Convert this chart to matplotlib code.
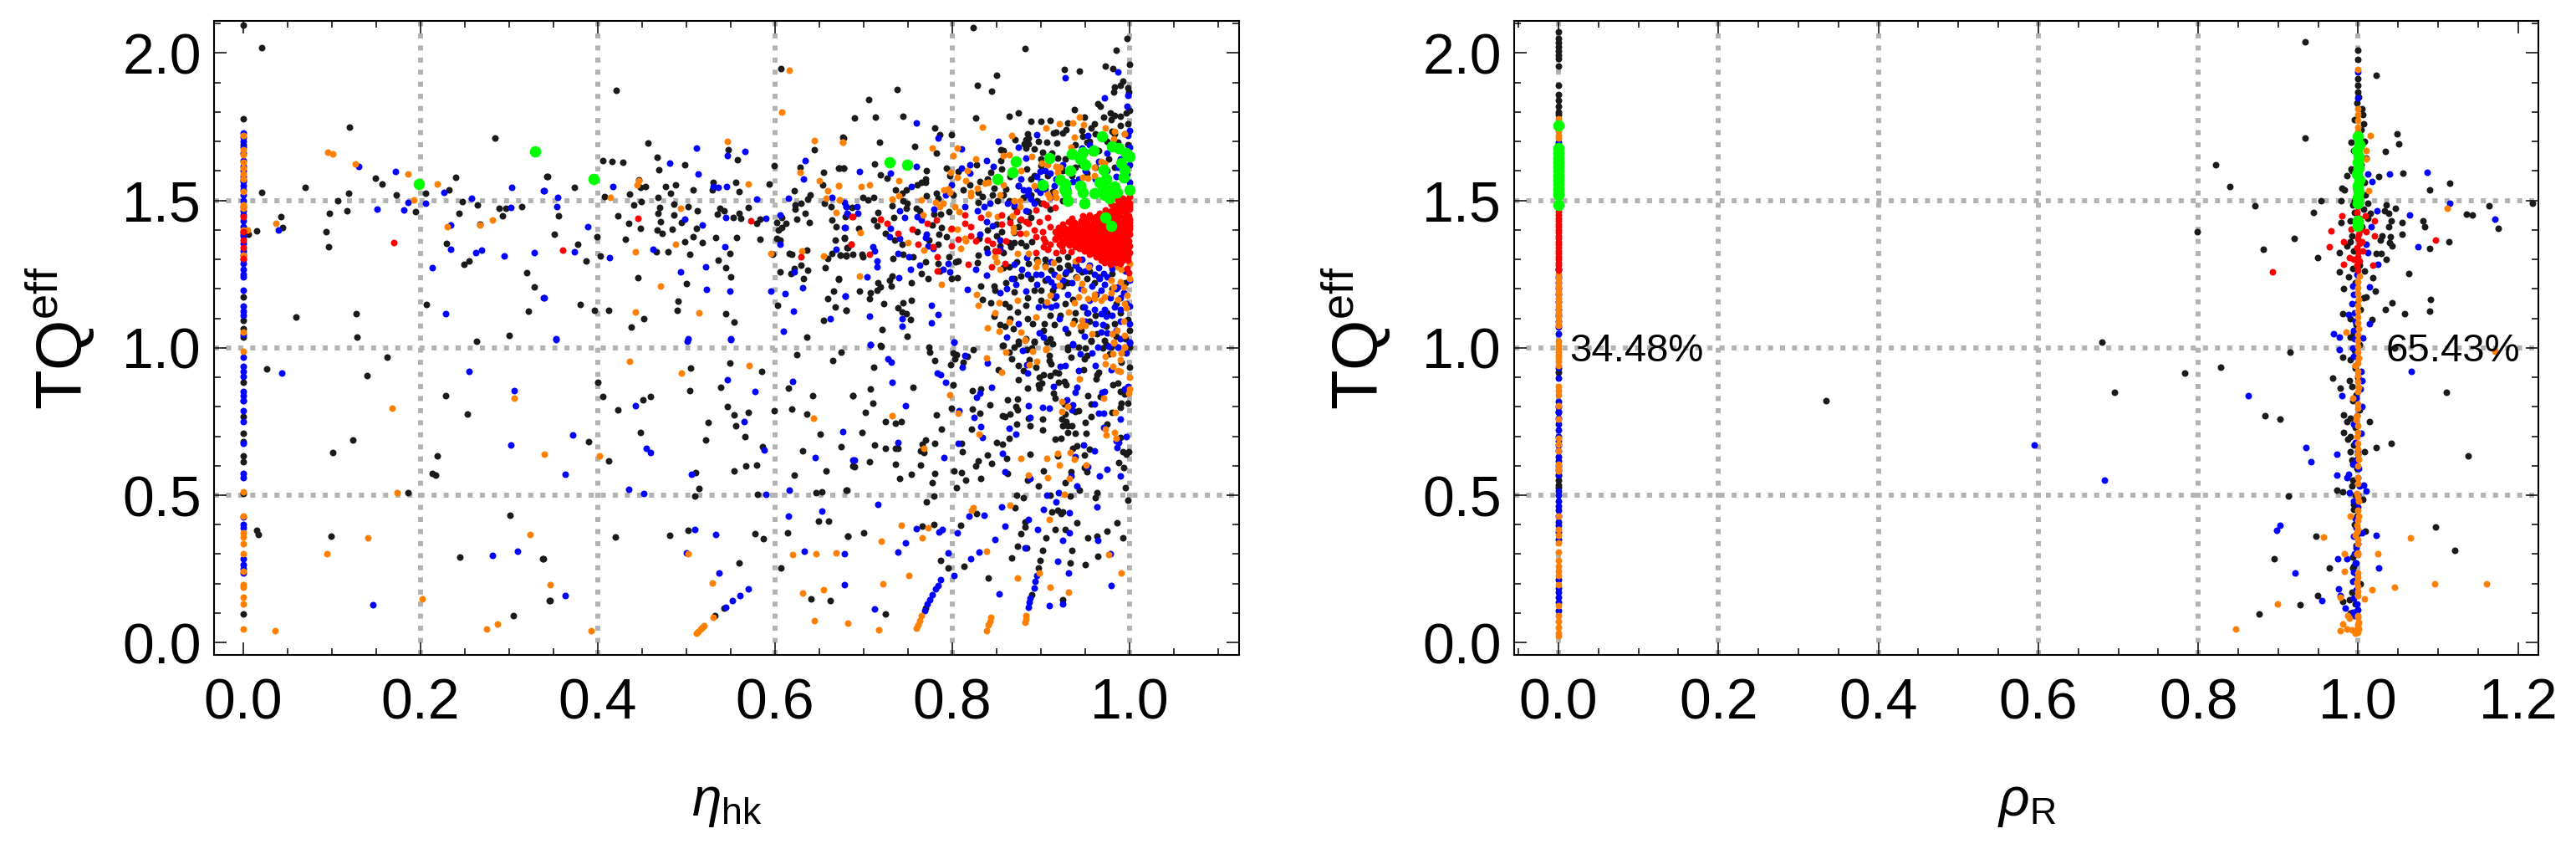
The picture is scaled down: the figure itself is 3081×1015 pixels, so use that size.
import numpy as np
import matplotlib
matplotlib.use("Agg")
import matplotlib.pyplot as plt

plt.rcParams['font.family'] = ['Liberation Sans', 'DejaVu Sans']
plt.rcParams['mathtext.fontset'] = 'custom'
plt.rcParams['mathtext.rm'] = 'Liberation Sans'
plt.rcParams['mathtext.it'] = 'Liberation Sans:italic'

# --- left panel, points sitting on eta_hk = 0 (only TQ values) ---
left_zero_black = [2.094, 1.778, 1.690, 1.173, 1.094, 1.066, 1.037, 0.884, 0.821, 0.766, 0.709, 0.683, 0.634, 0.613, 0.506, 0.097, 1.57, 1.384]
left_zero_blue = [1.73, 1.715, 1.70, 1.68, 1.66, 1.635, 1.615, 1.60, 1.58, 1.565, 1.55, 1.535, 1.52, 1.50, 1.48, 1.465, 1.45, 1.43, 1.41, 1.395, 1.38, 1.355, 1.33, 1.315, 1.30, 1.285, 1.265, 1.25, 1.24, 1.196, 1.14, 1.125, 1.111, 1.044,
                  0.967, 0.938, 0.919, 0.902, 0.851, 0.837, 0.821, 0.787, 0.749, 0.675, 0.575, 0.56, 0.426, 0.402, 0.39, 0.284, 0.265, 0.25, 0.235]
left_zero_orange = [1.719, 1.671, 1.654, 1.63, 1.61, 1.59, 1.574, 1.531, 1.484, 1.473, 1.399, 1.314, 1.052, 0.988, 0.512, 0.428, 0.373, 0.359, 0.336, 0.302, 0.241, 0.197, 0.189, 0.154, 0.130, 0.045]
left_zero_red = [1.446, 1.394, 1.366, 1.340, 1.304]

# --- left panel, scattered points (eta_hk, TQ) ---
left_black = [
    (.021, 2.017), (.120, 1.749), (.284, 1.711), (.149, 1.575), (.157, 1.556), (.070, 1.544), (.021, 1.528), (.119, 1.525), (.173, 1.518),
    (.107, 1.499), (.042, 1.446), (.097, 1.456), (.117, 1.465), (.194, 1.462), (.206, 1.525), (.232, 1.535), (.240, 1.578), (.247, 1.495),
    (.264, 1.486), (.243, 1.457), (.289, 1.472), (.292, 1.449), (.296, 1.474), (.314, 1.480), (.342, 1.580), (.267, 1.420), (.044, 1.409),
    (.015, 1.397), (.006, 1.384), (.093, 1.393), (.096, 1.344), (.229, 1.354), (.255, 1.294), (.249, 1.283), (.320, 1.255), (.328, 1.208),
    (.207, 1.147), (.322, 1.125), (.059, 1.104), (.127, 1.115), (.300, 1.042), (.128, 1.037),
    (.263, 1.022), (.162, .969), (.026, .929), (.140, .906), (.228, .839), (.253, .775), (.124, .688), (.101, .645), (.219, .634), (.213, .575),
    (.217, .567), (.186, .508), (.301, .433), (.015, .381), (.017, .366), (.099, .360), (.244, .289), (.338, .284), (.345, .142), (.305, .092),
    (.421, 1.874), (.607, 1.946), (.457, 1.694), (.467, 1.647), (.406, 1.635), (.416, 1.633), (.428, 1.629), (.469, 1.603), (.498, 1.620),
    (.547, 1.671), (.558, 1.639), (.599, 1.618), (.628, 1.613), (.644, 1.673), (.677, 1.713), (.655, 1.595), (.673, 1.610), (.677, 1.610),
    (.343, 1.580), (.374, 1.545), (.446, 1.571), (.448, 1.543), (.454, 1.548), (.476, 1.546), (.488, 1.552), (.482, 1.524), (.508, 1.536),
    (.530, 1.562), (.529, 1.536), (.556, 1.562), (.559, 1.531), (.593, 1.555), (.622, 1.534), (.654, 1.552), (.408, 1.512), (.436, 1.521),
    (.468, 1.510), (.441, 1.485), (.449, 1.495), (.470, 1.476), (.468, 1.457), (.486, 1.487), (.502, 1.479), (.512, 1.466), (.486, 1.451),
    (.423, 1.449), (.356, 1.448), (.538, 1.472), (.542, 1.466), (.535, 1.454), (.559, 1.457), (.553, 1.443), (.561, 1.439), (.570, 1.476),
    (.583, 1.437), (.579, 1.423), (.608, 1.443), (.623, 1.484), (.629, 1.491), (.623, 1.470), (.637, 1.505), (.640, 1.519), (.656, 1.491),
    (.663, 1.478), (.634, 1.456), (.625, 1.437), (.639, 1.425), (.664, 1.433), (.679, 1.446), (.687, 1.477), (.602, 1.425), (.612, 1.423),
    (.608, 1.408), (.604, 1.399), (.669, 1.410), (.435, 1.422), (.471, 1.427), (.494, 1.424), (.448, 1.404), (.467, 1.399), (.473, 1.389),
    (.484, 1.401), (.511, 1.404), (.351, 1.385), (.399, 1.378), (.431, 1.369), (.508, 1.378), (.533, 1.374), (.557, 1.373), (.583, 1.367),
    (.602, 1.371), (.606, 1.366), (.668, 1.366), (.678, 1.372), (.498, 1.361), (.518, 1.356), (.377, 1.351), (.403, 1.313), (.387, 1.294),
    (.466, 1.325), (.479, 1.326), (.504, 1.316), (.549, 1.321), (.597, 1.318), (.616, 1.319), (.619, 1.316), (.636, 1.331), (.664, 1.321),
    (.659, 1.302), (.674, 1.314), (.680, 1.312), (.682, 1.340), (.536, 1.298), (.544, 1.272), (.629, 1.280), (.622, 1.270), (.637, 1.262),
    (.606, 1.258), (.618, 1.251), (.657, 1.272), (.550, 1.242), (.632, 1.236), (.672, 1.232), (.445, 1.237), (.500, 1.218), (.666, 1.193),
    (.659, 1.168), (.491, 1.159), (.380, 1.148), (.603, 1.144), (.396, 1.126), (.412, 1.128), (.490, 1.126), (.668, 1.139), (.680, 1.126),
    (.544, 1.115), (.452, 1.098), (.554, 1.088), (.655, 1.094), (.438, 1.069), (.636, 1.035),
    (.625, .978), (.675, .986), (.665, .957), (.549, .949), (.505, .930), (.585, .921), (.400, .884), (.539, .865), (.504, .854), (.615, .864),
    (.406, .834), (.642, .839), (.688, .838), (.451, .823), (.459, .835), (.423, .790), (.546, .802), (.554, .773), (.570, .781), (.599, .788),
    (.619, .791), (.636, .776), (.525, .746), (.556, .735), (.448, .713), (.651, .708), (.566, .698), (.390, .683), (.522, .687), (.586, .664),
    (.675, .664), (.631, .649), (.412, .615), (.510, .577), (.554, .583), (.567, .599), (.579, .601), (.658, .581), (.622, .567), (.688, .598),
    (.514, .524), (.509, .496), (.580, .503), (.646, .508), (.653, .512), (.680, .517), (.649, .412), (.660, .413), (.502, .380), (.481, .364),
    (.420, .357), (.577, .369), (.587, .353), (.614, .372), (.682, .362), (.339, .284), (.559, .269), (.607, .252), (.346, .142), (.641, .149),
    (.662, .142), (.542, .116), (.532, .092),
    (.719, 1.007), (.774, 1.001), (.775, .986), (.780, .957), (.711, .933), (.801, .982), (.805, .976), (.803, .963), (.812, .952), (.817, .972),
    (.798, .943), (.824, .995), (.852, .927), (.857, 1.008), (.864, .986), (.867, .963), (.870, 1.001), (.875, 1.014), (.884, .993), (.892, 1.020),
    (.875, .939), (.880, .922), (.887, .960), (.894, .933), (.898, .901), (.903, .910), (.910, .906), (.916, .916), (.920, .913), (.875, .891),
    (.901, .881), (.897, .875), (.898, .864), (.885, .863), (.920, .884), (.926, .887), (.928, .875), (.909, .974), (.909, .957), (.911, .946),
    (.913, 1.014), (.907, 1.020), (.930, .995), (.934, .969), (.942, 1.003), (.949, .963), (.952, .974), (.948, .925), (.963, .908), (.965, .916),
    (.962, .894), (.981, .875), (.987, .881), (.990, .851), (.994, .842), (1.0, .934), (.991, .951), (1.0, 1.003), (.974, 1.012), (.977, .979),
    (.957, 1.023), (.688, .838), (.708, .861), (.756, .865), (.710, .811), (.702, .780), (.725, .750), (.736, .744), (.742, .749), (.782, .772),
    (.698, .712), (.788, .724), (.801, .874), (.823, .854), (.832, .859), (.799, .796), (.823, .791), (.831, .779), (.842, .807), (.862, .824),
    (.874, .827), (.872, .801), (.874, .790), (.857, .769), (.859, .766), (.865, .776), (.886, .762), (.902, .758), (.822, .725), (.873, .740),
    (.888, .735), (.902, .722), (.864, .694), (.914, .845), (.916, .828), (.926, .809), (.939, .783), (.942, .787), (.927, .776), (.924, .759),
    (.928, .749), (.925, .736), (.930, .736), (.935, .736), (.930, .712), (.939, .709), (.951, .710), (.950, .746), (.957, .768), (.957, .809),
    (.953, .838), (.967, .834), (.990, .799), (.991, .811), (.998, .811), (.980, .781), (.975, .742), (.916, .689), (.923, .692), (.712, .670),
    (.725, .658), (.736, .658), (.739, .660), (.770, .686), (.766, .673), (.764, .649), (.768, .645), (.780, .675), (.810, .676), (.811, .647),
    (.850, .679), (.857, .674), (.840, .636), (.829, .615), (.826, .600), (.844, .608), (.861, .624), (.888, .638), (.936, .660), (.941, .667),
    (.955, .656), (.949, .635), (.992, .648), (.999, .648), (.996, .638), (.990, .695), (.988, .610), (.993, .594), (.707, .613), (.690, .596),
    (.736, .605), (.764, .602), (.741, .556), (.754, .570), (.780, .574), (.777, .542), (.802, .581), (.810, .577), (.815, .550), (.832, .557),
    (.805, .525), (.681, .517), (.862, .575), (.885, .550), (.903, .581), (.897, .530), (.934, .580), (.927, .542), (.952, .580), (.949, .594),
    (.919, .634), (.995, .525), (.943, .516), (.910, .499), (.873, .501), (.880, .491), (.933, .497), (.963, .508), (.961, .491), (.998, .483),
    (.779, .496), (.771, .478), (.871, .458), (.827, .438), (.912, .442), (.919, .449), (.923, .437), (.925, .444), (.779, .400), (.766, .394),
    (.809, .397), (.882, .408), (.882, .391), (.941, .407), (.986, .407), (.682, .362), (.700, .372), (.877, .369), (.916, .384), (.927, .383),
    (.975, .378), (.906, .354), (.953, .354), (.963, .362), (.992, .354), (.874, .328), (.884, .321), (.902, .312), (.935, .312), (.964, .293),
    (.867, .288), (.899, .279), (.933, .269), (.950, .265), (.787, .279), (.795, .252), (.813, .258), (.897, .252), (.841, .220), (.725, .097),
    (.890, .161), (.925, .144), (.770, .116),
    (.824, 2.087), (.882, 2.015), (.997, 2.048), (.985, 2.009), (.973, 1.957), (.981, 1.948), (1.0, 1.961), (.926, 1.943), (.943, 1.940),
    (.850, 1.925), (.992, 1.906), (.990, 1.891), (.983, 1.884), (.982, 1.868), (.998, 1.882), (.999, 1.868), (.828, 1.890), (.844, 1.871),
    (.738, 1.876), (.706, 1.841), (.690, 1.779), (.713, 1.783), (.744, 1.785), (.826, 1.781), (.864, 1.785), (.875, 1.797), (.938, 1.808),
    (.964, 1.828), (.967, 1.820), (.978, 1.797), (.983, 1.787), (.990, 1.785), (.996, 1.797), (1.0, 1.806), (.949, 1.783), (.971, 1.783),
    (.979, 1.773), (.990, 1.754), (.998, 1.759), (.960, 1.761), (.957, 1.745), (.930, 1.764), (.889, 1.768), (.900, 1.768), (.910, 1.772),
    (.780, 1.747), (.786, 1.722), (.799, 1.724), (.676, 1.714), (.718, 1.698), (.758, 1.682), (.782, 1.661), (.928, 1.740), (.925, 1.728),
    (.914, 1.729), (.917, 1.732), (.946, 1.737), (.947, 1.716), (.885, 1.726), (.883, 1.707), (.886, 1.712), (.871, 1.705), (.881, 1.693),
    (.886, 1.693), (.907, 1.698), (.918, 1.696), (.897, 1.699), (.855, 1.672), (.858, 1.669), (.883, 1.679), (.892, 1.674), (.902, 1.664),
    (.919, 1.645), (.855, 1.634), (.712, 1.625), (.672, 1.610), (.677, 1.610), (.793, 1.610), (.827, 1.620), (.856, 1.606), (.884, 1.606),
    (.843, 1.596), (.719, 1.587), (.726, 1.576), (.771, 1.601), (.797, 1.584), (.807, 1.598), (.770, 1.574), (.770, 1.560), (.765, 1.560),
    (.760, 1.554), (.820, 1.553), (.831, 1.565), (.840, 1.574), (.847, 1.541), (.892, 1.584), (.736, 1.537), (.748, 1.535), (.743, 1.525),
    (.782, 1.525), (.771, 1.515), (.699, 1.510), (.705, 1.502), (.711, 1.510), (.744, 1.499), (.784, 1.508), (.801, 1.518), (.812, 1.537),
    (.829, 1.527), (.834, 1.513), (.829, 1.494), (.732, 1.482), (.749, 1.489), (.748, 1.472), (.759, 1.473), (.763, 1.466), (.779, 1.453),
    (.787, 1.453), (.796, 1.461), (.716, 1.459), (.734, 1.442), (.711, 1.433), (.715, 1.414), (.694, 1.404), (.725, 1.387), (.735, 1.366),
    (.760, 1.395), (.777, 1.418), (.788, 1.409), (.785, 1.385), (.793, 1.376), (.774, 1.366), (.743, 1.352), (.784, 1.352), (.681, 1.340),
    (.678, 1.373), (.674, 1.314), (.680, 1.314), (.688, 1.316), (.698, 1.317), (.699, 1.308), (.733, 1.302), (.744, 1.317), (.756, 1.308),
    (.770, 1.293), (.796, 1.308), (.804, 1.291), (.807, 1.295), (.829, 1.314), (.828, 1.288), (.784, 1.286), (.765, 1.253), (.773, 1.236),
    (.786, 1.260), (.799, 1.234), (.806, 1.239), (.754, 1.222), (.729, 1.229), (.732, 1.243), (.716, 1.220), (.731, 1.210), (.672, 1.234),
    (.719, 1.206), (.715, 1.194), (.708, 1.187), (.695, 1.191), (.707, 1.166), (.723, 1.149), (.744, 1.153), (.754, 1.160), (.739, 1.136),
    (.743, 1.122), (.748, 1.116), (.680, 1.128), (.753, 1.097), (.721, 1.062), (.749, 1.040), (.720, 1.005),
    (.832, 1.210), (.847, 1.210), (.848, 1.196), (.834, 1.163), (.843, 1.153), (.864, 1.139), (.859, 1.149), (.877, 1.243), (.870, 1.234),
    (.883, 1.144), (.889, 1.234), (.892, 1.196), (.900, 1.196), (.854, 1.078), (.859, 1.073), (.869, 1.064), (.847, 1.106), (.874, 1.122),
    (.891, 1.081), (.904, 1.083), (.903, 1.059), (.892, 1.021), (.858, 1.007), (.875, 1.021), (.883, 1.031), (.913, 1.196), (.927, 1.224),
    (.930, 1.220), (.936, 1.163), (.927, 1.149), (.922, 1.111), (.939, 1.120), (.938, 1.092), (.947, 1.139), (.952, 1.120), (.961, 1.111),
    (.963, 1.049), (.957, 1.026), (.974, 1.073), (.983, 1.083), (.998, 1.097), (1.0, 1.059), (.972, 1.026), (.979, 1.002), (.930, 1.002),
    (.858, 1.272), (.864, 1.276), (.873, 1.291), (.886, 1.286), (.870, 1.357), (.877, 1.357), (.864, 1.357), (.866, 1.343), (.883, 1.347),
    (.856, 1.395), (.854, 1.347), (.858, 1.324), (.839, 1.338), (.889, 1.518), (.895, 1.499), (.886, 1.461), (.889, 1.442), (.876, 1.433),
    (.851, 1.499), (.858, 1.518), (.864, 1.499), (.870, 1.480), (.908, 1.333), (.911, 1.262), (.921, 1.272), (.933, 1.267), (.946, 1.258),
    (.952, 1.234), (.930, 1.281), (.905, 1.281), (.895, 1.300), (.927, 1.253), (.980, 1.253), (.889, 1.574), (.900, 1.617), (.908, 1.584),
    (.919, 1.612), (.927, 1.641), (.939, 1.688), (.952, 1.697), (.961, 1.726), (.958, 1.664), (.939, 1.612), (.952, 1.593), (.961, 1.612),
    (.976, 1.641), (.983, 1.612), (.994, 1.726), (.987, 1.697), (.983, 1.726), (.980, 1.735),
    # extra points in the crowded part above and below the red block
    (.90, 1.64), (.912, 1.66), (.925, 1.60), (.935, 1.585), (.945, 1.62), (.955, 1.70), (.965, 1.67), (.975, 1.70), (.99, 1.67), (.998, 1.69),
    (.905, 1.55), (.913, 1.53), (.925, 1.50), (.875, 1.55), (.865, 1.58), (.87, 1.63), (.845, 1.52), (.86, 1.54), (.88, 1.51), (.90, 1.49), (.91, 1.47),
    (.865, 1.44), (.875, 1.41), (.85, 1.42), (.84, 1.40), (.83, 1.37), (.85, 1.38), (.87, 1.39), (.89, 1.36), (.905, 1.30), (.92, 1.30), (.93, 1.31),
    (.94, 1.28), (.955, 1.26), (.965, 1.24), (.94, 1.24), (.925, 1.21), (.915, 1.17), (.90, 1.16), (.885, 1.17), (.87, 1.19), (.86, 1.22), (.905, 1.23),
    (.96, 1.22), (.98, 1.20), (.995, 1.22), (.985, 1.15), (.975, 1.12), (.955, 1.09), (.945, 1.06), (.93, 1.05), (.915, 1.08), (.91, 1.11), (.99, 1.12),
    (.995, 1.03), (.985, 1.04), (.97, 1.00), (.95, 1.00), (.91, 1.03), (.89, 1.00), (.885, 1.10), (.865, 1.10),
]
left_blue = [
    (.130, 1.616), (.172, 1.599), (.226, 1.527), (.258, 1.506), (.303, 1.544), (.339, 1.534), (.186, 1.492), (.206, 1.491), (.151, 1.470),
    (.181, 1.468), (.302, 1.476), (.234, 1.418), (.040, 1.399), (.234, 1.333), (.269, 1.331), (.262, 1.323), (.294, 1.311), (.328, 1.323),
    (.213, 1.272), (.339, 1.170), (.228, 1.115), (.043, .915), (.255, .920), (.306, .855), (.302, .669), (.281, .296), (.309, .311), (.146, .127),
    (.511, 1.677), (.566, 1.667), (.546, 1.652), (.634, 1.636), (.481, 1.626), (.513, 1.590), (.632, 1.574), (.340, 1.533), (.417, 1.546),
    (.530, 1.548), (.536, 1.544), (.545, 1.546), (.355, 1.511), (.354, 1.480), (.579, 1.505), (.615, 1.506), (.664, 1.511), (.680, 1.479),
    (.498, 1.436), (.544, 1.442), (.590, 1.438), (.606, 1.452), (.681, 1.456), (.518, 1.417), (.389, 1.410), (.679, 1.408), (.606, 1.351),
    (.543, 1.343), (.374, 1.327), (.413, 1.307), (.462, 1.333), (.669, 1.333), (.522, 1.274), (.493, 1.257), (.622, 1.257), (.523, 1.198),
    (.549, 1.191), (.595, 1.193), (.611, 1.183), (.631, 1.204), (.679, 1.175), (.340, 1.169), (.621, 1.124), (.662, 1.100), (.609, 1.056),
    (.353, 1.032), (.502, 1.032), (.550, 1.032), (.353, 1.028), (.501, 1.023), (.550, 1.029),
    (.620, .885), (.546, .891), (.577, .852), (.442, .805), (.565, .750), (.676, .717), (.372, .705), (.455, .659), (.459, .646), (.588, .654),
    (.645, .629), (.363, .571), (.506, .570), (.688, .619), (.435, .519), (.452, .506), (.590, .503), (.616, .516), (.653, .445), (.615, .429),
    (.509, .383), (.533, .366), (.633, .311), (.500, .303), (.678, .300), (.537, .237), (.363, .160), (.570, .181), (.560, .160), (.552, .142),
    (.544, .121), (.678, .196),
    (.708, 1.012), (.802, 1.020), (.727, .963), (.731, .951), (.814, .974), (.840, .949), (.811, .934), (.783, .914), (.787, .910), (.732, .883),
    (.792, .883), (.844, .866), (.831, .845), (.827, .833), (.747, .803), (.808, .787), (.825, .765), (.832, .732), (.864, .728), (.872, .706),
    (.834, .697), (.739, .680), (.807, .675), (.791, .629), (.690, .620), (.857, .643), (.859, .580), (.888, .558), (.879, .990), (.884, .944),
    (.885, .915), (.922, .936), (.927, .939), (.942, .924), (.961, .939), (.936, 1.014), (.944, .979), (.958, .982), (.964, 1.003), (.976, 1.005),
    (.987, 1.003), (1.0, 1.019), (.996, .982), (.979, .927), (.914, .868), (.941, .865), (.939, .848), (.994, .861), (.998, .868), (.969, .848),
    (.972, .851), (.886, .805), (.902, .797), (.909, .794), (.929, .823), (.936, .806), (.935, .790), (.888, .764), (.960, .809), (.965, .777),
    (.971, .777), (.990, .759), (.971, .731), (.996, .698), (.985, .684), (.988, .679), (.986, .662), (.948, .671), (.960, .649), (.939, .630),
    (.953, .596), (.975, .588), (.966, .566), (.990, .564), (.934, .565), (.941, .532), (.907, .500), (.920, .508), (.917, .478), (.856, .461),
    (.903, .452), (.932, .441), (.963, .461), (.716, .468), (.836, .433), (.819, .428), (.886, .418), (.859, .395), (.896, .385), (.932, .372),
    (.759, .387), (.785, .376), (.789, .383), (.806, .372), (.848, .350), (.925, .348), (.964, .348), (.747, .339), (.882, .321), (.739, .307),
    (.795, .305), (.830, .308), (.821, .284), (.978, .301), (.919, .276), (.931, .236), (.802, .228), (.979, .194), (.853, .166), (.712, .113),
    (.909, .126), (.925, .132),
    (.787, .213), (.784, .194), (.781, .181), (.777, .161), (.775, .146), (.772, .132), (.769, .109),
    (.895, .229), (.893, .208), (.892, .184), (.888, .151), (.887, .137), (.886, .121),
    (.759, 1.764), (.784, 1.712), (.852, 1.701), (.875, 1.681), (.895, 1.722), (.810, 1.676), (.927, 1.917), (.987, 1.937), (.972, 1.848),
    (.998, 1.856), (.997, 1.820), (1.0, 1.737), (.953, 1.721), (.695, 1.598), (.730, 1.592), (.759, 1.615), (.754, 1.548), (.799, 1.554),
    (.810, 1.610), (.820, 1.593), (.820, 1.622), (.846, 1.615), (.839, 1.636), (.883, 1.645), (.877, 1.574), (.875, 1.551), (.880, 1.537),
    (.886, 1.537), (.899, 1.598), (.910, 1.592), (.900, 1.565), (.899, 1.527), (.889, 1.504), (.892, 1.489), (.883, 1.466), (.862, 1.489),
    (.870, 1.485), (.842, 1.489), (.836, 1.480), (.814, 1.480), (.779, 1.470), (.792, 1.518), (.678, 1.494), (.680, 1.478), (.692, 1.480),
    (.682, 1.454), (.693, 1.456), (.741, 1.464), (.746, 1.442), (.760, 1.445), (.765, 1.433), (.678, 1.409), (.730, 1.404), (.729, 1.376),
    (.741, 1.371), (.771, 1.385), (.770, 1.373), (.710, 1.342), (.712, 1.329), (.715, 1.295), (.715, 1.275), (.739, 1.321), (.751, 1.308),
    (.773, 1.347), (.778, 1.336), (.795, 1.286), (.790, 1.265), (.797, 1.258), (.763, 1.279), (.753, 1.265), (.704, 1.241), (.740, 1.239),
    (.679, 1.175), (.707, 1.107), (.743, 1.099), (.743, 1.073), (.776, 1.144), (.784, 1.113), (.776, 1.085), (.817, 1.199), (.802, 1.020),
    (.708, 1.012), (.826, 1.267), (.839, 1.245), (.828, 1.466), (.831, 1.385), (.839, 1.428), (.845, 1.414), (.854, 1.366), (.840, 1.324),
    (.854, 1.333), (.867, 1.234), (.872, 1.215), (.861, 1.201), (.854, 1.187), (.878, 1.267), (.870, 1.283), (.884, 1.305), (.894, 1.248),
    (.908, 1.234), (.911, 1.224), (.895, 1.215), (.883, 1.191), (.917, 1.174), (.897, 1.139), (.905, 1.144), (.911, 1.139), (.917, 1.144),
    (.921, 1.100), (.927, 1.064), (.898, 1.050), (.903, 1.035), (.861, 1.035), (.875, 1.083), (.965, 1.272), (.971, 1.253), (.966, 1.234),
    (.972, 1.215), (.968, 1.196), (.987, 1.206), (.993, 1.187), (.983, 1.139), (.990, 1.130), (.972, 1.130), (.968, 1.116), (.974, 1.106),
    (.949, 1.139), (.953, 1.120), (.961, 1.083), (.968, 1.054), (.949, 1.040), (.936, 1.012), (1.0, 1.083), (1.0, 1.016), (.987, 1.002),
    (.939, 1.281), (.946, 1.300), (.942, 1.267), (.928, 1.258), (.911, 1.291), (.955, 1.281), (.946, 1.679), (.955, 1.688), (.965, 1.631),
    (.987, 1.612), (.917, 1.574), (.936, 1.565), (.942, 1.574), (.961, 1.574), (.960, 1.25), (.978, 1.17), (.962, 1.18), (.958, 1.21),
    (.975, 1.24), (.985, 1.20), (.996, 1.15), (.955, 1.16), (.945, 1.20), (.990, 1.09), (.975, 1.05), (.96, 1.13),
    # extra points in the crowded part
    (.895, 1.58), (.905, 1.60), (.915, 1.55), (.925, 1.62), (.905, 1.54), (.895, 1.54), (.885, 1.52), (.91, 1.51), (.93, 1.54), (.95, 1.60), (.975, 1.66),
    (.99, 1.64), (.998, 1.72), (1.0, 1.68), (1.0, 1.62), (.997, 1.59), (1.0, 1.56), (1.0, 1.53), (.985, 1.58), (.975, 1.60), (.915, 1.25), (.925, 1.23),
    (.935, 1.22), (.95, 1.26), (.98, 1.27), (.995, 1.26), (1.0, 1.23), (.93, 1.18), (.915, 1.21), (.90, 1.25), (.885, 1.25), (.99, 1.17), (1.0, 1.14),
    (.98, 1.11), (.97, 1.08), (.95, 1.09), (.985, 1.06), (.99, 1.03),
]
left_orange = [
    (.095, 1.663), (.101, 1.657), (.126, 1.624), (.186, 1.589), (.219, 1.557), (.192, 1.503), (.037, 1.421), (.005, 1.399), (.230, 1.410),
    (.267, 1.416), (.281, 1.433), (.168, .796), (.340, .638), (.174, .509), (.141, .355), (.094, .302), (.324, .366), (.202, .147), (.346, .197),
    (.306, .829), (.036, .040), (.275, .045), (.287, .064),
    (.616, 1.942), (.608, 1.801), (.546, 1.700), (.644, 1.704), (.676, 1.698), (.628, 1.594), (.446, 1.566), (.444, 1.553), (.570, 1.556),
    (.650, 1.566), (.672, 1.550), (.659, 1.532), (.414, 1.509), (.658, 1.506), (.673, 1.503), (.493, 1.474), (.669, 1.459), (.488, 1.350),
    (.442, 1.327), (.595, 1.321), (.630, 1.330), (.655, 1.312), (.471, 1.210), (.442, 1.122), (.514, 1.119),
    (.436, .953), (.571, .941), (.494, .913), (.643, .760), (.402, .634), (.502, .302), (.620, .299), (.646, .300), (.669, .305), (.529, .202),
    (.655, .179), (.631, .167), (.530, .087), (.392, .039), (.644, .075), (.682, .066),
    (.511, .031), (.513, .038), (.516, .045), (.518, .052), (.520, .056),
    (.860, .986), (.839, .965), (.856, .917), (.891, .987), (.882, 1.026), (.906, .995), (.895, .955), (.887, .944), (.982, 1.017), (.973, .972),
    (.981, .979), (.994, 1.003), (.991, .982), (.990, .960), (.973, .946), (.981, .936), (.987, .922), (.990, .919), (1.0, .899), (.943, .894),
    (1.0, .861), (.999, .847), (.797, .841), (.971, .829), (.924, .818), (.930, .802), (.924, .785), (.984, .780), (.807, .777), (.732, .771),
    (.973, .723), (.974, .705), (.983, .712), (.985, .693), (.830, .707), (.768, .660), (.919, .641), (.933, .646), (.938, .623), (.907, .626),
    (.877, .625), (.921, .603), (.951, .601), (.886, .567), (.908, .559), (.932, .556), (.926, .504), (.865, .466), (.824, .457), (.822, .449),
    (.909, .417), (.742, .398), (.773, .390), (.720, .343), (.766, .356), (.839, .309), (.976, .298), (.751, .228), (.722, .199), (.874, .219),
    (.898, .235), (.991, .236), (.910, .189), (.931, .172), (.717, .042), (.839, .040),
    (.765, .090), (.763, .075), (.761, .061), (.759, .050), (.843, .085), (.842, .071), (.841, .059), (.883, .090), (.883, .080), (.882, .068),
    (.921, 1.760), (.936, 1.762), (.948, 1.758), (.943, 1.783), (.906, 1.746), (.834, 1.750), (.973, 1.745), (.983, 1.735), (.994, 1.726),
    (.982, 1.710), (.867, 1.719), (.938, 1.715), (.676, 1.698), (.777, 1.679), (.806, 1.677), (.801, 1.652), (.934, 1.681), (.858, 1.652),
    (.864, 1.655), (.890, 1.650), (.826, 1.640), (.901, 1.628), (.908, 1.622), (.917, 1.615), (.922, 1.612), (.968, 1.631), (.972, 1.628),
    (.798, 1.596), (.817, 1.601), (.877, 1.600), (.919, 1.595), (.740, 1.566), (.806, 1.578), (.837, 1.558), (.841, 1.560), (.672, 1.551),
    (.697, 1.547), (.707, 1.554), (.858, 1.552), (.892, 1.549), (.815, 1.568), (.791, 1.537), (.795, 1.539), (.797, 1.527), (.828, 1.541),
    (.821, 1.527), (.821, 1.515), (.854, 1.518), (.908, 1.522), (.909, 1.510), (.916, 1.527), (.917, 1.511), (.947, 1.579), (.953, 1.576),
    (.960, 1.612), (.960, 1.584), (.673, 1.503), (.732, 1.505), (.740, 1.515), (.765, 1.502), (.781, 1.492), (.786, 1.479), (.790, 1.489),
    (.803, 1.479), (.808, 1.461), (.870, 1.499), (.876, 1.499), (.876, 1.480), (.868, 1.447), (.841, 1.454), (.851, 1.444), (.767, 1.452),
    (.696, 1.392), (.719, 1.433), (.798, 1.402), (.806, 1.401), (.869, 1.409), (.869, 1.395), (.883, 1.388), (.814, 1.371), (.815, 1.362),
    (.750, 1.357), (.768, 1.331), (.809, 1.338), (.848, 1.310), (.850, 1.291), (.854, 1.267), (.874, 1.321), (.886, 1.319), (.896, 1.291),
    (.894, 1.276), (.905, 1.276), (.914, 1.289), (.939, 1.294), (.954, 1.274), (.972, 1.293), (.987, 1.276), (.993, 1.314), (1.0, 1.286),
    (.991, 1.267), (.695, 1.244), (.788, 1.215), (.920, 1.241), (.941, 1.238), (.979, 1.229), (1.0, 1.236), (.990, 1.223), (.993, 1.206),
    (.946, 1.218), (.921, 1.212), (.982, 1.208), (.948, 1.196), (.979, 1.188), (.827, 1.182), (.960, 1.182), (.960, 1.168), (.953, 1.166),
    (.972, 1.172), (.968, 1.160), (.942, 1.172), (.910, 1.177), (.997, 1.179), (.938, 1.153), (.987, 1.163), (.994, 1.149), (.996, 1.135),
    (.907, 1.155), (.853, 1.153), (.874, 1.161), (.829, 1.145), (.931, 1.122), (.848, 1.119), (.894, 1.104), (.946, 1.092), (.993, 1.090),
    (.864, 1.087), (.936, 1.081), (.944, 1.073), (.950, 1.075), (.840, 1.068), (.853, 1.056), (.877, 1.054), (.986, 1.059), (.958, 1.047),
    (.980, 1.047), (.994, 1.041), (.882, 1.028), (.982, 1.018), (.994, 1.002), (.906, .997),
]
left_red = [
    (.170, 1.358), (.445, 1.439), (.360, 1.331), (.573, 1.431), (.629, 1.310), (.686, 1.351), (.687, 1.444),
    (.688, 1.446), (.719, 1.437), (.726, 1.423), (.739, 1.387), (.755, 1.401), (.761, 1.352), (.778, 1.342), (.772, 1.422), (.782, 1.435),
    (.814, 1.452), (.814, 1.421), (.821, 1.412), (.832, 1.441), (.856, 1.452), (.856, 1.420), (.865, 1.424), (.799, 1.406), (.807, 1.368),
    (.821, 1.381), (.826, 1.362), (.840, 1.366), (.845, 1.353), (.860, 1.364), (.876, 1.387), (.799, 1.346), (.686, 1.352), (.707, 1.317),
    (.783, 1.308), (.818, 1.283), (.783, 1.260), (.859, 1.286), (.844, 1.274), (.848, 1.329), (.852, 1.329), (.873, 1.461), (.877, 1.437),
    (.883, 1.428), (.886, 1.423), (.894, 1.469), (.903, 1.489), (.906, 1.485), (.916, 1.475), (.908, 1.442), (.898, 1.428), (.892, 1.400),
    (.902, 1.395), (.894, 1.376), (.903, 1.371), (.916, 1.395), (.916, 1.371), (.903, 1.343), (.908, 1.333), (.894, 1.324), (.917, 1.324),
    (.924, 1.343), (.921, 1.352),
    # the solid block next to eta_hk = 1
    (.986, 1.505), (.992, 1.508), (.998, 1.503), (1.0, 1.512), (.979, 1.488), (.985, 1.483), (.991, 1.490), (.997, 1.486), (1.0, 1.491),
    (.973, 1.468), (.979, 1.464), (.985, 1.470), (.990, 1.466), (.995, 1.463), (1.0, 1.470), (.947, 1.447), (.955, 1.452), (.962, 1.445),
    (.969, 1.449), (.975, 1.444), (.981, 1.450), (.987, 1.446), (.993, 1.443), (.999, 1.449), (.931, 1.428), (.938, 1.424), (.945, 1.430),
    (.952, 1.426), (.959, 1.431), (.966, 1.425), (.972, 1.429), (.978, 1.424), (.984, 1.430), (.990, 1.426), (.996, 1.429), (1.0, 1.424),
    (.920, 1.408), (.927, 1.404), (.934, 1.410), (.941, 1.405), (.948, 1.409), (.955, 1.404), (.961, 1.410), (.967, 1.405), (.973, 1.409),
    (.979, 1.404), (.985, 1.409), (.991, 1.405), (.997, 1.410), (1.0, 1.404), (.918, 1.388), (.925, 1.384), (.932, 1.390), (.939, 1.385),
    (.946, 1.389), (.953, 1.384), (.959, 1.390), (.965, 1.385), (.971, 1.389), (.977, 1.384), (.983, 1.389), (.989, 1.385), (.995, 1.390),
    (1.0, 1.384), (.916, 1.368), (.924, 1.364), (.931, 1.370), (.938, 1.365), (.945, 1.369), (.951, 1.364), (.957, 1.370), (.963, 1.365),
    (.969, 1.369), (.975, 1.364), (.981, 1.369), (.987, 1.365), (.993, 1.370), (.999, 1.364), (.932, 1.348), (.939, 1.344), (.946, 1.350),
    (.952, 1.345), (.958, 1.349), (.964, 1.344), (.970, 1.350), (.976, 1.345), (.982, 1.349), (.988, 1.344), (.994, 1.350), (1.0, 1.345),
    (.949, 1.328), (.955, 1.324), (.961, 1.330), (.967, 1.325), (.973, 1.329), (.979, 1.324), (.985, 1.330), (.991, 1.325), (.997, 1.329),
    (1.0, 1.324), (.962, 1.308), (.968, 1.304), (.974, 1.309), (.980, 1.305), (.986, 1.308), (.992, 1.304), (.998, 1.308), (.972, 1.288),
    (.978, 1.284), (.984, 1.288), (.990, 1.285), (.942, 1.30), (.934, 1.325), (.997, 1.27), (.999, 1.255),
    # second pass over the block, between the rows above
    (.994, 1.497), (.988, 1.497), (.982, 1.477), (.988, 1.477), (.994, 1.477), (1.0, 1.480), (.976, 1.457), (.983, 1.458), (.989, 1.456), (.996, 1.455),
    (.966, 1.457), (.951, 1.438), (.958, 1.440), (.965, 1.436), (.972, 1.438), (.979, 1.436), (.986, 1.438), (.993, 1.435), (1.0, 1.437), (.935, 1.417),
    (.942, 1.418), (.949, 1.416), (.956, 1.418), (.963, 1.417), (.970, 1.418), (.976, 1.415), (.982, 1.418), (.988, 1.416), (.994, 1.419), (1.0, 1.415),
    (.923, 1.397), (.930, 1.398), (.937, 1.396), (.944, 1.398), (.951, 1.396), (.957, 1.398), (.963, 1.397), (.969, 1.398), (.975, 1.395), (.981, 1.398),
    (.987, 1.396), (.993, 1.398), (.999, 1.396), (.921, 1.377), (.928, 1.378), (.935, 1.376), (.942, 1.378), (.949, 1.376), (.955, 1.378), (.961, 1.377),
    (.967, 1.378), (.973, 1.375), (.979, 1.378), (.985, 1.376), (.991, 1.378), (.997, 1.376), (.928, 1.357), (.935, 1.356), (.942, 1.358), (.949, 1.356),
    (.955, 1.358), (.961, 1.356), (.967, 1.358), (.973, 1.356), (.979, 1.358), (.985, 1.356), (.991, 1.358), (.997, 1.356), (.943, 1.337), (.950, 1.336),
    (.956, 1.338), (.962, 1.336), (.968, 1.338), (.974, 1.336), (.980, 1.338), (.986, 1.336), (.992, 1.338), (.998, 1.336), (.955, 1.317), (.961, 1.316),
    (.967, 1.318), (.973, 1.316), (.979, 1.317), (.985, 1.316), (.991, 1.318), (.997, 1.316), (.968, 1.296), (.974, 1.296), (.980, 1.297), (.986, 1.296),
    (.992, 1.297), (.998, 1.296), (.91, 1.41), (.905, 1.36), (.925, 1.42), (.935, 1.44), (.91, 1.35), (.925, 1.33),
]
left_green = [
    (.198, 1.557), (.329, 1.666), (.395, 1.574), (.729, 1.629), (.749, 1.622), (.851, 1.574), (.868, 1.596), (.872, 1.631), (.902, 1.553),
    (.909, 1.645), (.969, 1.716), (.935, 1.658), (.947, 1.663), (.959, 1.669), (.944, 1.641), (.950, 1.622), (.933, 1.601), (.922, 1.570),
    (.927, 1.556), (.928, 1.527), (.930, 1.499), (.944, 1.551), (.947, 1.527), (.949, 1.489), (.960, 1.524), (.966, 1.560), (.971, 1.603),
    (.974, 1.574), (.977, 1.537), (.977, 1.506), (.986, 1.527), (.980, 1.683), (.988, 1.679), (.996, 1.660), (1.0, 1.650), (.991, 1.627),
    (.994, 1.603), (.993, 1.579), (1.0, 1.537), (.973, 1.442), (.979, 1.414), (.970, 1.546), (.983, 1.546), (.926, 1.54), (.972, 1.52),
]

# --- right panel, points sitting on rho_R = 0 (only TQ values) ---
right_zero_black = [2.071, 2.05, 2.036, 2.02, 2.006, 1.992, 1.981, 1.956, 1.890, 1.858, 1.84, 1.82, 1.80, 1.79, 0.917, 0.567, 0.55, 0.535, 0.525]
right_zero_blue = [1.697, 1.265, 1.24, 1.22, 1.20, 1.18, 1.155, 1.13, 1.11, 1.09, 1.07, 1.049, 0.93, 0.898, 0.785, 0.818, 0.80, 0.78, 0.76, 0.74, 0.72, 0.70, 0.685, 0.67, 0.65, 0.63, 0.615, 0.60, 0.585, 0.567, 0.515, 0.50, 0.48, 0.463, 0.449, 0.43, 0.41, 0.397, 0.375, 0.35, 0.212, 0.184, 0.17, 0.155, 0.137, 0.108]
right_zero_orange = [1.778, 1.762, 1.735, 1.72, 1.712, 1.248, 1.235, 1.225, 1.21, 1.20, 1.19, 1.18, 1.168, 1.155, 1.14, 1.13, 1.118, 1.105, 1.09, 1.08, 1.075, 1.021, 1.008, 0.997, 0.985, 0.975, 0.965, 0.955, 0.94, 0.870, 0.855, 0.841, 0.804, 0.758, 0.693, 0.673, 0.650, 0.605, 0.59, 0.581, 0.428, 0.383, 0.364, 0.337, 0.307, 0.279, 0.26, 0.241, 0.227, 0.195, 0.126, 0.090, 0.071, 0.052, 0.033, 0.023]
right_zero_red = [1.461, 1.45, 1.44, 1.43, 1.42, 1.41, 1.40, 1.39, 1.38, 1.37, 1.36, 1.35, 1.34, 1.33, 1.32, 1.31, 1.30, 1.29, 1.28, 1.27, 1.262]
right_zero_green = [1.753, 1.679, 1.66, 1.645, 1.63, 1.615, 1.60, 1.585, 1.57, 1.555, 1.54, 1.525, 1.518, 1.484]

# --- right panel, scattered points (rho_R, TQ) ---
right_black = [
    (.335, .820), (.68, 1.02), (.695, .85), (.934, 2.038), (1.023, 1.925),
    (.822, 1.620), (.840, 1.547), (.871, 1.483), (.934, 1.712), (.954, 1.500), (.979, 1.499), (.944, 1.458), (.799, 1.393), (.920, 1.372),
    (.881, 1.333), (.949, 1.306), (.976, 1.323), (.979, 1.425), (.983, 1.536), (.980, 1.541), (.986, 1.584), (.991, 1.697), (.991, 1.607),
    (1.049, 1.725), (1.051, 1.691), (1.034, 1.665), (1.026, 1.581), (1.056, 1.592), (1.115, 1.558), (1.089, 1.535), (1.164, 1.483),
    (1.218, 1.491), (1.135, 1.454), (1.143, 1.451), (1.175, 1.406), (1.035, 1.486), (1.047, 1.472), (1.033, 1.465), (1.038, 1.456),
    (1.041, 1.432), (1.055, 1.426), (1.081, 1.432), (1.083, 1.411), (1.038, 1.411), (1.055, 1.385), (1.030, 1.380), (1.028, 1.365),
    (1.040, 1.376), (1.039, 1.357), (1.042, 1.347), (1.089, 1.338), (1.113, 1.360), (1.022, 1.319), (1.029, 1.319), (1.035, 1.299),
    (1.063, 1.252), (1.018, 1.239), (.976, 1.257), (.982, 1.202), (1.021, 1.192), (1.090, 1.165), (1.042, 1.153), (1.034, 1.129),
    (1.058, 1.115), (1.089, 1.125), (.981, 1.115), (1.017, 1.095), (1.010, 1.172), (.915, .985), (.828, .935), (.783, .913), (.981, .969),
    (.968, .897), (.978, .863), (.989, .888), (1.110, .848), (.883, .770), (.902, .758), (.982, .773), (.986, .749), (1.014, .749), (.982, .713),
    (.987, .690), (1.023, .662), (1.041, .675), (1.008, .647), (1.137, .634), (.990, .647), (.973, .518), (.981, .512), (.913, .496),
    (1.045, 1.0), (1.009, .378), (.947, .361), (1.097, .393), (1.121, .312), (.895, .284), (.964, .252), (.993, .252), (.949, .159),
    (.981, .141), (.989, .144), (.927, .128), (.876, .098), (.994, .452),
    # the column around rho_R = 1
    (1.0, 2.009), (.999, 1.979), (1.0, 1.914), (.999, 1.890), (1.0, 1.868), (1.001, 1.85), (.998, 1.83), (1.005, 1.81), (1.006, 1.79), (.995, 1.775),
    (1.007, 1.76), (1.004, 1.74), (.998, 1.72), (1.008, 1.70), (.994, 1.67), (1.01, 1.645), (1.004, 1.62), (.992, 1.60), (1.0, 1.58), (1.008, 1.56),
    (.997, 1.54), (1.009, 1.52), (.995, 1.50), (.993, 1.485), (1.012, 1.49), (1.007, 1.47), (.995, 1.46), (1.015, 1.455), (1.012, 1.44), (.99, 1.43),
    (1.005, 1.41), (.992, 1.38), (.99, 1.36), (.986, 1.345), (.994, 1.33), (.998, 1.30), (1.002, 1.28), (.993, 1.27), (1.008, 1.26), (.988, 1.24),
    (.996, 1.22), (1.007, 1.17), (.998, 1.15), (1.003, 1.13), (.99, 1.10), (.997, 1.08), (.994, 1.05), (.99, 1.035), (1.002, 1.01), (.995, .99),
    (.99, .96), (.996, .93), (1.0, .90), (.992, .87), (.997, .84), (.993, .82), (1.002, .79), (.99, .76), (.996, .73), (.99, .70), (.994, .67), (1.0, .64),
    (.992, .62), (.998, .59), (.993, .55), (.992, .53), (.996, .50), (1.006, .485), (.994, .47), (.998, .43), (.995, .40), (1.0, .37), (.997, .33),
    (.993, .29), (.994, .26), (.998, .23), (1.003, .20), (.992, .17), (.996, .13), (.99, .10),
]
right_blue = [
    (.595, .67), (.683, .55), (1.039, 1.590), (1.086, 1.595), (1.012, 1.590), (1.017, 1.565), (1.114, 1.491), (1.024, 1.465), (1.064, 1.451),
    (1.171, 1.436), (1.016, 1.410), (1.010, 1.352), (1.075, 1.343), (1.012, 1.324), (1.025, 1.284), (1.014, 1.208), (.988, 1.112),
    (.969, 1.048), (.976, 1.036), (.977, .994), (1.014, 1.081), (1.006, 1.033), (1.066, .919), (.980, .838), (.863, .838), (.935, .663),
    (.973, .640), (.941, .613), (.973, .567), (.986, .560), (.988, .570), (1.007, .534), (1.010, .515), (.989, .508), (.993, .606), (1.0, 1.847),
    (1.0, 1.935), (.902, .399), (.898, .381), (1.022, .363), (1.005, .372), (.974, .284), (.986, .284), (1.026, .253), (.921, .236), (.975, .182),
    (.955, .142), (.978, .159), (.984, .118), (.993, .208), (.993, .104), (.998, .109), (.996, .270), (.999, .336),
    # the column around rho_R = 1
    (.998, 1.25), (.993, 1.21), (.994, 1.18), (.992, 1.15), (.995, 1.12), (.996, 1.09), (.994, 1.06), (.995, 1.03), (.993, 1.0), (.994, .97), (.996, .94),
    (1.004, .92), (1.005, .89), (1.003, .86), (.997, .83), (1.005, .80), (.998, .77), (.994, .74), (1.004, .71), (.996, .68), (1.0, .65), (.997, .62),
    (1.001, .59), (.999, .56), (1.002, .53), (.999, .50), (.994, .48), (1.0, .46), (.996, .42), (.997, .39), (.994, .36), (.997, .32), (.995, .30),
    (.997, .27), (.994, .24), (.995, .21), (.997, .18), (.994, .15), (.998, .13), (1.0, .11), (.995, .09),
]
right_orange = [
    (1.015, 1.719), (1.013, 1.532), (1.111, 1.472), (1.171, .988), (.985, 1.052), (.993, .829), (1.010, 1.669), (1.010, 1.640),
    (.957, .359), (1.065, .356), (1.025, .301), (.983, .302), (.983, .241), (.990, .429), (1.017, .180), (1.046, .187), (1.096, .200), (1.160, .198),
    (.978, .154), (1.008, .148), (.899, .130), (.847, .046), (.981, .063), (.978, .041), (.987, .090), (.989, .082), (.986, .046), (.992, .042), (.996, .033),
    # the column around rho_R = 1
    (1.0, 1.943), (1.0, 1.81), (1.0, 1.79), (1.0, 1.77), (1.0, 1.75), (1.0, 1.735), (1.002, 1.243), (1.0, 1.225), (.999, 1.205), (1.0, 1.185), (1.001, 1.165),
    (1.0, 1.145), (.999, 1.125), (1.0, 1.105), (1.0, 1.085), (1.001, 1.065), (1.0, 1.045), (.999, 1.025), (1.0, 1.005), (1.0, .985), (1.001, .965), (.999, .948),
    (.996, .940), (1.0, .920), (.999, .905), (1.0, .885), (1.001, .865), (.999, .852), (1.0, .810), (1.0, .795), (.998, .770), (.997, .755), (1.0, .735), (.999, .712),
    (.998, .700), (.999, .675), (1.0, .655), (1.0, .640), (1.001, .622), (1.0, .600), (.999, .560), (1.0, .540), (.998, .505), (1.0, .495), (1.001, .480), (.999, .448),
    (1.001, .428), (.999, .415), (.998, .398), (1.0, .385), (.998, .375), (.996, .365), (.999, .350), (1.0, .335), (1.0, .305), (.998, .300), (1.0, .298),
    (1.0, .235), (.999, .222), (.998, .205), (1.0, .190), (.999, .175), (1.0, .160), (.999, .090), (1.0, .085), (1.001, .070), (.999, .060), (1.0, .052), (1.001, .045), (.998, .040), (1.0, .035),
]
right_red = [
    (.980, 1.447), (1.020, 1.431), (.966, 1.396), (1.020, 1.380), (.982, 1.359), (.964, 1.343), (1.097, 1.366), (.893, 1.259), (.982, 1.283),
    (1.018, 1.279), (1.009, 1.447), (.991, 1.401), (1.010, 1.395), (.989, 1.307),
    # the column around rho_R = 1
    (1.0, 1.48), (.998, 1.46), (1.002, 1.44), (.999, 1.42), (1.003, 1.40), (1.001, 1.385), (.999, 1.37), (1.002, 1.355), (.998, 1.34), (1.001, 1.325),
    (.999, 1.31), (1.002, 1.295), (.998, 1.28), (1.0, 1.262), (.994, 1.30), (1.006, 1.33), (1.005, 1.36),
]
right_green = [
    (1.0, 1.716), (1.002, 1.69), (.998, 1.67), (1.001, 1.65), (.999, 1.63), (1.001, 1.61), (.998, 1.59), (1.002, 1.57), (.999, 1.55),
    (1.001, 1.53), (.999, 1.51), (1.0, 1.49), (1.0, 1.432), (.999, 1.413),
]

x_major_left = [0.0, 0.2, 0.4, 0.6, 0.8, 1.0]
x_major_right = [0.0, 0.2, 0.4, 0.6, 0.8, 1.0, 1.2]
y_major = [0.0, 0.5, 1.0, 1.5, 2.0]
grid_x_left = [0.2, 0.4, 0.6, 0.8, 1.0]
grid_x_right = [0.0, 0.2, 0.4, 0.6, 0.8, 1.0]
grid_y = [0.5, 1.0, 1.5]

BLACK = '#1a1a1a'
BLUE = '#0000ff'
ORANGE = '#ff7f00'
RED = '#ff0000'
GREEN = '#00ff00'
GRAY = '#b2b2b2'
W, H = 3081, 1015
SMALL = 33
BIG = 96


def scatter_group(ax, pairs, zero_y, color, size, zorder):
    pts = np.array(pairs)
    xs = np.concatenate([pts[:, 0], np.zeros(len(zero_y))])
    ys = np.concatenate([pts[:, 1], np.array(zero_y)])
    ax.scatter(xs, ys, s=size, c=color, linewidths=0, zorder=zorder, clip_on=False)


def style_axes(ax, xticks, gridx):
    ax.set_ylim(-0.042, 2.109)
    # 6 px squares with a 8.5 px gap
    for v in gridx:
        ax.axvline(v, color=GRAY, lw=4.3, linestyle=(0, (1.0, 1.42)), zorder=1, dash_capstyle='butt')
    for v in grid_y:
        ax.axhline(v, color=GRAY, lw=4.3, linestyle=(0, (1.0, 1.42)), zorder=1, dash_capstyle='butt')
    ax.set_xticks(xticks)
    ax.set_xticklabels([f'{t:.1f}' for t in xticks])
    ax.set_yticks(y_major)
    ax.set_yticklabels([f'{t:.1f}' for t in y_major])
    ax.xaxis.set_minor_locator(plt.MultipleLocator(0.05))
    ax.yaxis.set_minor_locator(plt.MultipleLocator(0.1))
    ax.tick_params(which='major', direction='in', length=10.8, width=1.1, top=True, right=True,
                   labelsize=49)
    ax.tick_params(which='minor', direction='in', length=5.8, width=1.1, top=True, right=True)
    ax.tick_params(axis='x', which='major', pad=19)
    ax.tick_params(axis='y', which='major', pad=11)
    for s in ax.spines.values():
        s.set_linewidth(1.5)


fig = plt.figure(figsize=(W / 100, H / 100), dpi=100)
ax1 = fig.add_axes([256 / W, 1 - 783 / H, (1482 - 256) / W, (783 - 25) / H])
ax2 = fig.add_axes([1811 / W, 1 - 783 / H, (3036 - 1811) / W, (783 - 25) / H])

ax1.set_xlim(-0.033, 1.1236)
ax2.set_xlim(-0.0554, 1.2253)
style_axes(ax1, x_major_left, grid_x_left)
style_axes(ax2, x_major_right, grid_x_right)

scatter_group(ax1, left_black, left_zero_black, BLACK, SMALL, 3)
scatter_group(ax1, left_blue, left_zero_blue, BLUE, SMALL, 4)
scatter_group(ax1, left_orange, left_zero_orange, ORANGE, SMALL, 5)
scatter_group(ax1, left_red, left_zero_red, RED, SMALL, 6)
scatter_group(ax1, left_green, [], GREEN, BIG, 7)

scatter_group(ax2, right_black, right_zero_black, BLACK, SMALL, 3)
scatter_group(ax2, right_blue, right_zero_blue, BLUE, SMALL, 4)
scatter_group(ax2, right_orange, right_zero_orange, ORANGE, SMALL, 5)
scatter_group(ax2, right_red, right_zero_red, RED, SMALL, 6)
scatter_group(ax2, right_green, right_zero_green, GREEN, BIG, 7)

ax2.text(0.014, 0.954, '34.48%', fontsize=34, color='black', va='baseline', zorder=8)
ax2.text(1.035, 0.954, '65.43%', fontsize=34, color='black', va='baseline', zorder=8)

fig.text(869 / W, 1 - 975 / H, r'$\eta_{\mathrm{hk}}$', fontsize=46, ha='center', va='baseline')
fig.text(2424 / W, 1 - 975 / H, r'$\rho_{\mathrm{R}}$', fontsize=46, ha='center', va='baseline')
fig.text(72 / W, 1 - 404 / H, r'$\mathrm{TQ}^{\mathrm{eff}}$', fontsize=56, rotation=90, ha='center', va='center')
fig.text(1622 / W, 1 - 404 / H, r'$\mathrm{TQ}^{\mathrm{eff}}$', fontsize=56, rotation=90, ha='center', va='center')

fig.savefig('out.png', dpi=100)
